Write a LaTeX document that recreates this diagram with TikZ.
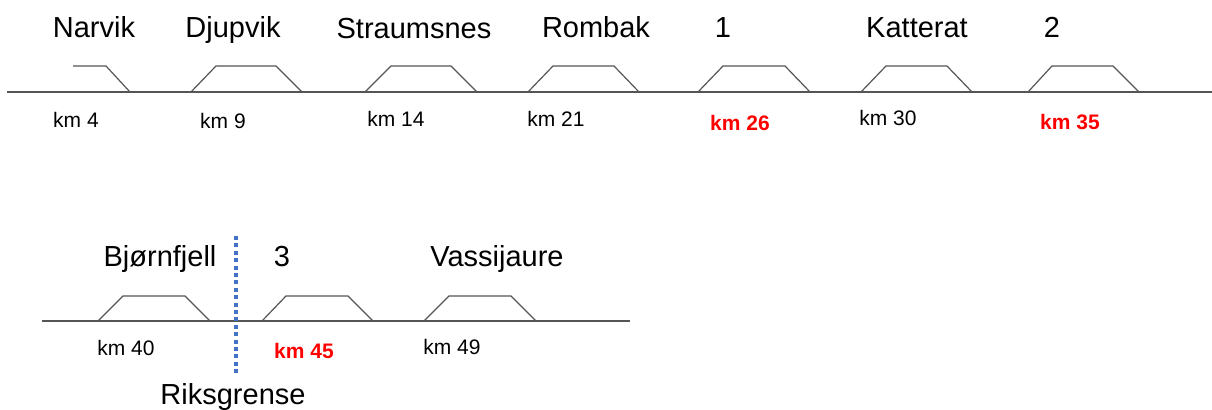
\documentclass[tikz,border=0pt]{standalone}
\usepackage{fontspec}
\setmainfont{Liberation Sans}
\definecolor{trackgray}{HTML}{555555}
\definecolor{borderblue}{HTML}{4472C4}
\definecolor{kmred}{HTML}{FF0000}
\begin{document}
\begin{tikzpicture}[x=0.5pt,y=-0.5pt,
  track/.style={draw=trackgray,line width=0.6pt},
  siding/.style={draw=trackgray,line width=0.6pt,line join=miter},
  station/.style={font=\fontsize{14.5}{16}\selectfont,inner sep=0pt,anchor=base},
  kmlabel/.style={font=\fontsize{10.5}{12}\selectfont,inner sep=0pt,anchor=base},
  kmred/.style={font=\fontsize{10.5}{12}\selectfont\bfseries,text=kmred,inner sep=0pt,anchor=base},
  border/.style={draw=borderblue,line width=2.3pt,dash pattern=on 2pt off 1.7pt}]
\useasboundingbox (0,0) rectangle (1212,410);
% top row track
\coordinate (t0) at (7,92);
\coordinate (t1) at (1212,92);
\draw[track] (t0) -- (t1);
\draw[siding] (73,66) -- (106,66) -- (130,92);
\foreach \a/\b/\c/\d in {191/216/276/302, 365/391/451/477, 528/553/614/639, 698/723/785/810, 861/886/947/972, 1028/1052/1113/1139}
  \draw[siding] (\a,92) -- (\b,66) -- (\c,66) -- (\d,92);
% top labels
\node[station] (narvik) at (94,38) {Narvik};
\node[station] (djupvik) at (233,38) {Djupvik};
\node[station] (straumsnes) at (414,39) {Straumsnes};
\node[station] (rombak) at (596,38) {Rombak};
\node[station] (one) at (723,38) {1};
\node[station] (katterat) at (917,37.5) {Katterat};
\node[station] (two) at (1052,38) {2};
\node[kmlabel] (km4) at (76,128) {km 4};
\node[kmlabel] (km9) at (223,129) {km 9};
\node[kmlabel] (km14) at (396,127) {km 14};
\node[kmlabel] (km21) at (556,127) {km 21};
\node[kmred] (km26) at (740,131) {km 26};
\node[kmlabel] (km30) at (888,126) {km 30};
\node[kmred] (km35) at (1070,130) {km 35};
% bottom row track
\coordinate (b0) at (42,321);
\coordinate (b1) at (630,321);
\draw[track] (b0) -- (b1);
\foreach \a/\b/\c/\d in {98/123/185/210, 262/286/348/373, 424/449/511/536}
  \draw[siding] (\a,321) -- (\b,296) -- (\c,296) -- (\d,321);
% border
\coordinate (g0) at (236,236);
\coordinate (g1) at (236,373);
\draw[border] (g0) -- (g1);
\node[station] (bjornfjell) at (160,267) {Bjørnfjell};
\node[station] (three) at (282,267) {3};
\node[station] (vassijaure) at (497,267) {Vassijaure};
\node[station] (riksgrense) at (233,405) {Riksgrense};
\node[kmlabel] (km40) at (126,356) {km 40};
\node[kmred] (km45) at (304,359) {km 45};
\node[kmlabel] (km49) at (452,355) {km 49};
\end{tikzpicture}
\end{document}
